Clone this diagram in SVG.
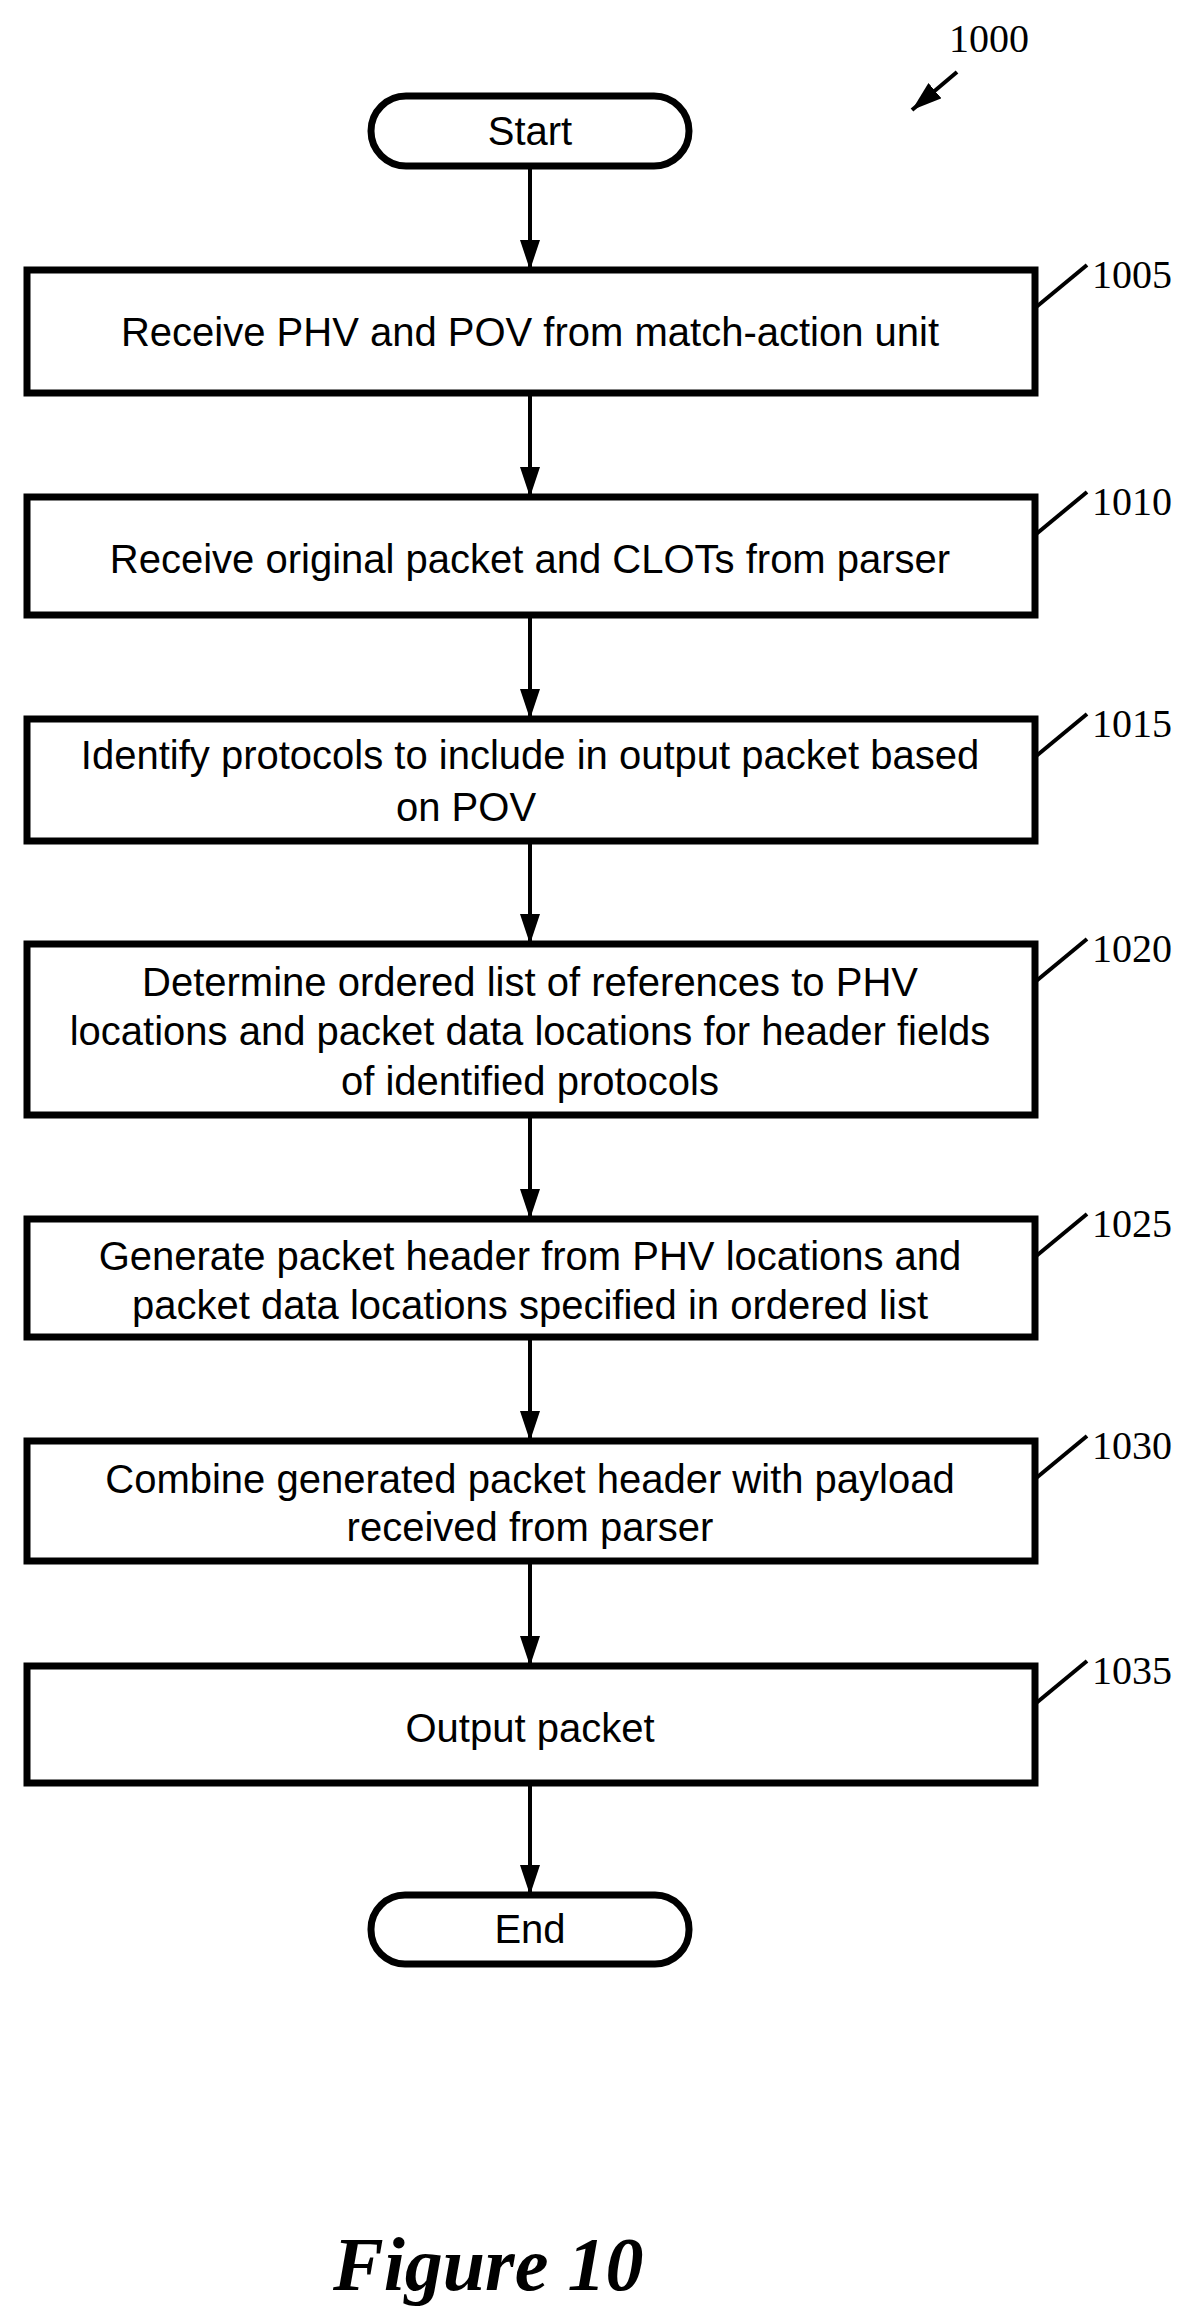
<svg xmlns="http://www.w3.org/2000/svg" width="1186" height="2309" viewBox="0 0 1186 2309">
<style>
.box{fill:#fff;stroke:#000;stroke-width:7}
.t{font-family:"Liberation Sans",Arial,sans-serif;font-size:40px;text-anchor:middle}
.n{font-family:"Liberation Serif","Times New Roman",serif;font-size:40px}
.c{stroke:#000;stroke-width:4;fill:none}
.ld{stroke:#000;stroke-width:4;fill:none}
</style>
<defs>
<marker id="a" viewBox="0 0 30 20" refX="30" refY="10" markerWidth="30" markerHeight="20" orient="auto" markerUnits="userSpaceOnUse"><path d="M0,0 L30,10 L0,20 z" fill="#000"/></marker></defs>
<rect width="1186" height="2309" fill="#fff"/>
<g id="label1000"><text class="n" x="949" y="52">1000</text><line class="ld" x1="957" y1="72" x2="912" y2="110" marker-end="url(#a)"/></g>
<g id="connectors">
<line class="c" x1="530" y1="166" x2="530" y2="270" marker-end="url(#a)"/>
<line class="c" x1="530" y1="393" x2="530" y2="497" marker-end="url(#a)"/>
<line class="c" x1="530" y1="615" x2="530" y2="719" marker-end="url(#a)"/>
<line class="c" x1="530" y1="841" x2="530" y2="944" marker-end="url(#a)"/>
<line class="c" x1="530" y1="1115" x2="530" y2="1219" marker-end="url(#a)"/>
<line class="c" x1="530" y1="1337" x2="530" y2="1441" marker-end="url(#a)"/>
<line class="c" x1="530" y1="1561" x2="530" y2="1666" marker-end="url(#a)"/>
<line class="c" x1="530" y1="1783" x2="530" y2="1895" marker-end="url(#a)"/>
</g>
<g id="start"><rect class="box" x="371" y="96" width="318" height="70" rx="35"/><text class="t" x="530" y="145">Start</text></g>
<g id="n1005"><rect class="box" x="27" y="270" width="1008" height="123"/><text class="t" x="530" y="346">Receive PHV and POV from match-action unit</text>
<line class="ld" x1="1035" y1="308" x2="1087" y2="265"/><text class="n" x="1092" y="288">1005</text></g>
<g id="n1010"><rect class="box" x="27" y="497" width="1008" height="118"/><text class="t" x="530" y="573">Receive original packet and CLOTs from parser</text>
<line class="ld" x1="1035" y1="535" x2="1087" y2="492"/><text class="n" x="1092" y="515">1010</text></g>
<g id="n1015"><rect class="box" x="27" y="719" width="1008" height="122"/><text class="t" x="530" y="769">Identify protocols to include in output packet based</text><text class="t" x="396" y="821" style="text-anchor:start">on POV</text>
<line class="ld" x1="1035" y1="757" x2="1087" y2="714"/><text class="n" x="1092" y="737">1015</text></g>
<g id="n1020"><rect class="box" x="27" y="944" width="1008" height="171"/><text class="t" x="530" y="996">Determine ordered list of references to PHV</text><text class="t" x="530" y="1045">locations and packet data locations for header fields</text><text class="t" x="530" y="1095">of identified protocols</text>
<line class="ld" x1="1035" y1="982" x2="1087" y2="939"/><text class="n" x="1092" y="962">1020</text></g>
<g id="n1025"><rect class="box" x="27" y="1219" width="1008" height="118"/><text class="t" x="530" y="1270">Generate packet header from PHV locations and</text><text class="t" x="530" y="1319">packet data locations specified in ordered list</text>
<line class="ld" x1="1035" y1="1257" x2="1087" y2="1214"/><text class="n" x="1092" y="1237">1025</text></g>
<g id="n1030"><rect class="box" x="27" y="1441" width="1008" height="120"/><text class="t" x="530" y="1493">Combine generated packet header with payload</text><text class="t" x="530" y="1541">received from parser</text>
<line class="ld" x1="1035" y1="1479" x2="1087" y2="1436"/><text class="n" x="1092" y="1459">1030</text></g>
<g id="n1035"><rect class="box" x="27" y="1666" width="1008" height="117"/><text class="t" x="530" y="1742">Output packet</text>
<line class="ld" x1="1035" y1="1704" x2="1087" y2="1661"/><text class="n" x="1092" y="1684">1035</text></g>
<g id="end"><rect class="box" x="371" y="1895" width="318" height="69" rx="34"/><text class="t" x="530" y="1943">End</text></g>
<text x="333" y="2290" style="font-family:'Liberation Serif','Times New Roman',serif;font-size:76px;font-weight:bold;font-style:italic">Figure 10</text>
</svg>
